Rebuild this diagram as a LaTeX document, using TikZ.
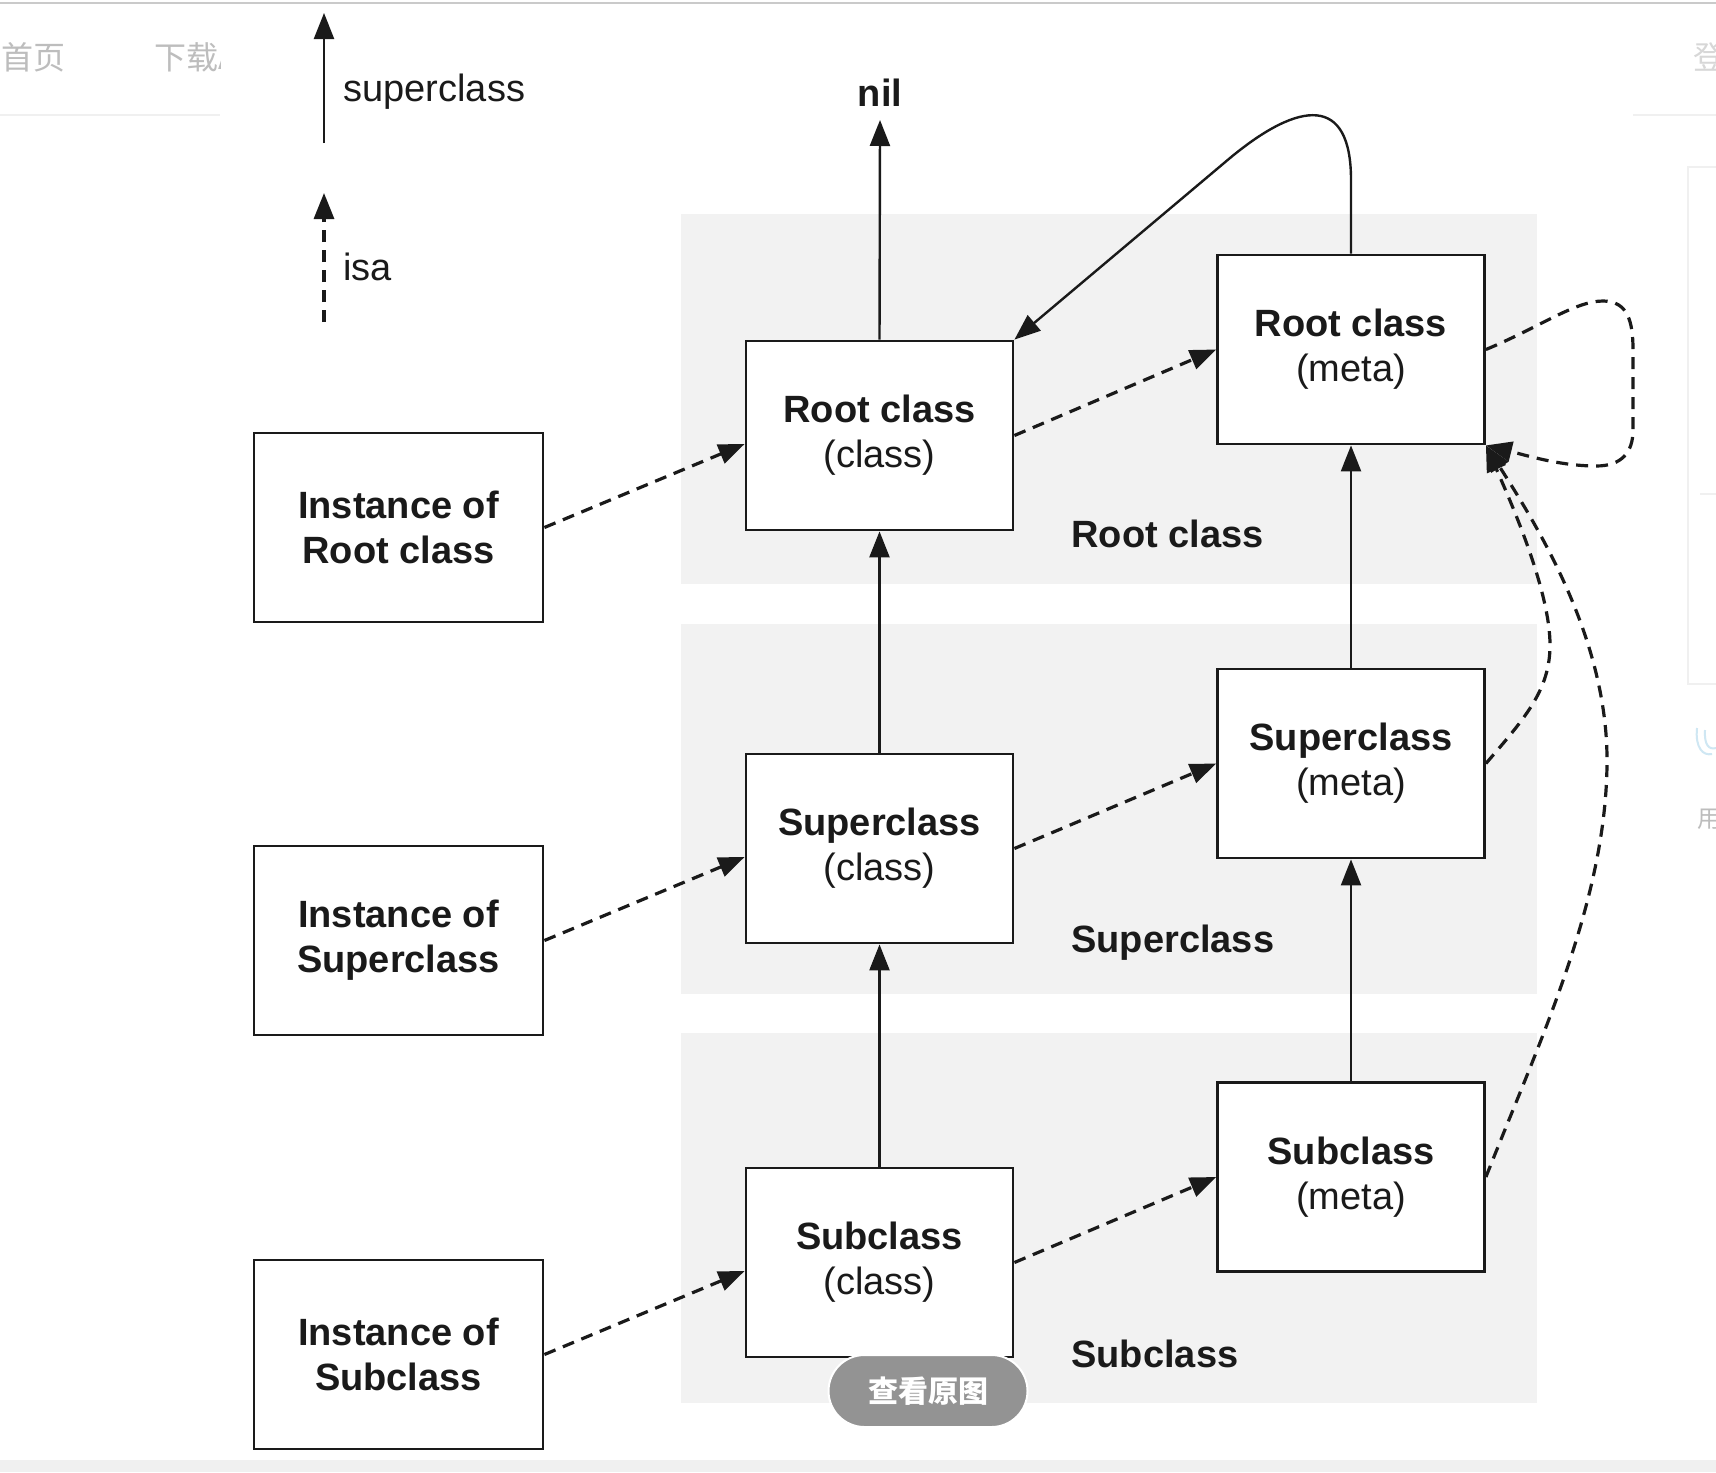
\documentclass[tikz,border=0pt]{standalone}
\usepackage{fontspec}
\setmainfont{Liberation Sans}
\newfontfamily\cjk{Noto Sans CJK SC}
\usetikzlibrary{arrows.meta}
\definecolor{band}{HTML}{F2F2F2}
\definecolor{ink}{HTML}{1A1A1A}
\definecolor{navgray}{HTML}{BDBDBD}
\definecolor{faint}{HTML}{F0F0F0}
\definecolor{btn}{HTML}{939393}
\definecolor{iconblue}{HTML}{CFE7F3}
\begin{document}
\begin{tikzpicture}[x=0.5pt,y=-0.5pt,
  box/.style={draw=ink, line width=1.4pt, fill=white, minimum width=133.5pt,
    minimum height=94.5pt, align=center, inner sep=0pt, text=ink,
    font=\fontsize{19}{22.5}\selectfont},
  ibox/.style={box, minimum width=144.5pt, font=\bfseries\fontsize{19}{22.5}\selectfont},
  sup/.style={draw=ink, line width=1.2pt, -{Triangle[length=13pt,width=10pt]}},
  isa/.style={sup, line width=1.6pt, dash pattern=on 6pt off 4pt},
  lbl/.style={inner sep=0pt, text=ink, font=\fontsize{19}{22.5}\selectfont},
  blbl/.style={lbl, font=\bfseries\fontsize{19}{22.5}\selectfont},
  navtxt/.style={inner sep=0pt, anchor=west, font=\cjk\fontsize{16}{16}\selectfont},
]
\useasboundingbox (0,0) rectangle (1716,1472);
\clip (0,0) rectangle (1716,1472);
\fill[white] (0,0) rectangle (1716,1472);
\fill[faint] (0,1460) rectangle (1716,1472);

% page chrome
\draw[color=navgray!80, line width=1pt] (0,3) -- (1716,3);
\draw[faint, line width=0.8pt] (0,115) -- (220,115);
\draw[faint, line width=0.8pt] (1633,115) -- (1716,115);
\draw[faint, line width=0.8pt] (1716,167) -- (1688,167) -- (1688,684) -- (1716,684);
\draw[faint, line width=0.8pt] (1700,494) -- (1716,494);
\node[navtxt, text=navgray] (nav1) at (1,57) {首页};
\begin{scope}
  \clip (0,0) rectangle (220,130);
  \node[navtxt, text=navgray] (nav2) at (154,57) {下载A};
\end{scope}
\node[navtxt, text=navgray!60] (nav3) at (1693,57) {登};
\draw[iconblue, line width=1pt] (1697,728) .. controls (1695,748) and (1703,756) .. (1712,754);
\draw[iconblue, line width=1pt] (1705,730) .. controls (1704,745) and (1709,750) .. (1716,748);
\node[navtxt, text=navgray, font=\cjk\fontsize{12}{12}\selectfont] (nav4) at (1697,819) {用};

% grey bands
\fill[band] (681,214) rectangle (1537,584);
\fill[band] (681,624) rectangle (1537,994);
\fill[band] (681,1033) rectangle (1537,1403);

% legend
\coordinate (l1b) at (324,143);
\coordinate (l1t) at (324,13);
\draw[sup] (l1b) -- (l1t);
\coordinate (l2b) at (324,322);
\coordinate (l2t) at (324,193);
\draw[isa] (l2b) -- (l2t);
\node[lbl, anchor=west] (tsup) at (343,92) {superclass};
\node[lbl, anchor=west] (tisa) at (343,267) {isa};

% nodes
\node[ibox] (irc) at (398.5,527.5) {Instance of\\Root class};
\node[ibox] (isc) at (398.5,940.5) {Instance of\\Superclass};
\node[ibox] (ibc) at (398.5,1354.5) {Instance of\\Subclass};

\node[box] (rc) at (879.5,435.5) {\textbf{Root class}\\(class)};
\node[box] (supc) at (879.5,848.5) {\textbf{Superclass}\\(class)};
\node[box] (subc) at (879.5,1262.5) {\textbf{Subclass}\\(class)};

\node[box] (rm) at (1351,349.5) {\textbf{Root class}\\(meta)};
\node[box] (supm) at (1351,763.5) {\textbf{Superclass}\\(meta)};
\node[box] (subm) at (1351,1177) {\textbf{Subclass}\\(meta)};

\node[blbl] (nil) at (880,93) {nil};
\node[blbl, anchor=west] (brc) at (1071,534) {Root class};
\node[blbl, anchor=west] (bsc) at (1071,943) {Superclass};
\node[blbl, anchor=west] (bbc) at (1071,1354) {Subclass};

% isa: instance -> class
\draw[isa] (irc.east) -- ([yshift=-4.25pt]rc.west);
\draw[isa] (isc.east) -- ([yshift=-4.25pt]supc.west);
\draw[isa] (ibc.east) -- ([yshift=-4.25pt]subc.west);
% isa: class -> meta
\draw[isa] (rc.east) -- (rm.west);
\draw[isa] (supc.east) -- (supm.west);
\draw[isa] (subc.east) -- (subm.west);

% superclass chains
\coordinate (niltip) at (880,120);
\draw[sup] (rc.north) -- (niltip);
\draw[sup] (supc.north) -- (rc.south);
\draw[sup] (subc.north) -- (supc.south);
\draw[sup] (supm.north) -- (rm.south);
\draw[sup] (subm.north) -- (supm.south);
\draw[sup] (rm.north) -- (1351,180) .. controls (1351,95) and (1300,100) .. (1230,158) -- (rc.north east);

% meta isa
\draw[isa] (rm.east) .. controls (1540,327) and (1575,301) .. (1603,301)
  .. controls (1628,301) and (1633,322) .. (1633,350) -- (1633,430)
  .. controls (1633,452) and (1622,466) .. (1596,466)
  .. controls (1560,466) and (1525,455) .. (rm.south east);
\draw[isa] (supm.east) .. controls (1525,718) and (1550,690) .. (1550,645)
  .. controls (1550,590) and (1510,500) .. (rm.south east);
\draw[isa] (subm.east) .. controls (1540,1040) and (1607,900) .. (1607,760)
  .. controls (1607,640) and (1540,530) .. (rm.south east);

% overlay button
\node[draw=white, line width=1pt, fill=btn, rounded corners=18pt, minimum width=99.5pt,
  minimum height=36pt, inner sep=0pt, text=white,
  font=\cjk\bfseries\fontsize{15}{15}\selectfont] (btnv) at (928,1391) {查看原图};
\end{tikzpicture}
\end{document}
